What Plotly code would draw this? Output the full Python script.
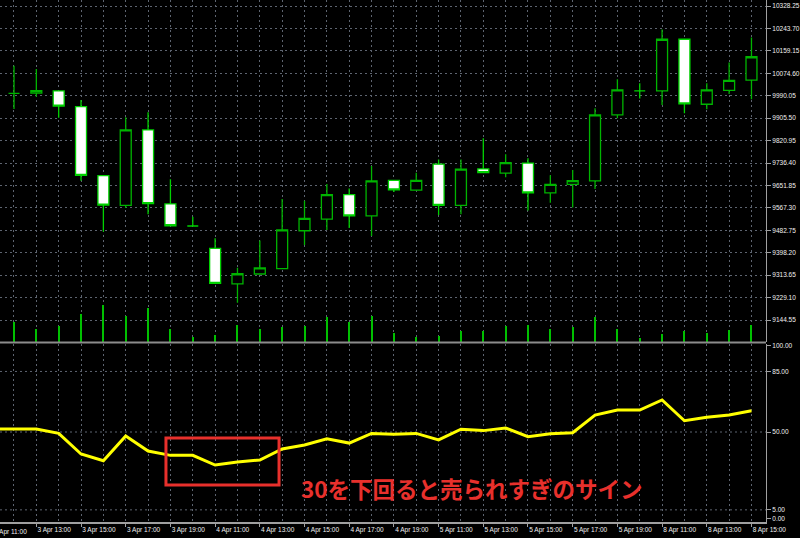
import plotly.graph_objects as go

# ---- data ----
idx = list(range(34))
opens = [9999, 10000, 10008, 9949, 9689, 9577, 9861, 9582, 9499, 9415, 9281, 9318, 9338, 9481, 9525, 9617, 9537,
         9671, 9634, 9732, 9577, 9714, 9698, 9736, 9624, 9656, 9669, 9918, 10008, 10008, 10203, 9958, 10010, 10049]
highs = [10103, 10091, 10010, 9974, 9690, 9909, 9928, 9675, 9534, 9453, 9342, 9444, 9601, 9594, 9657, 9640, 9725,
         9673, 9700, 9750, 9750, 9830, 9769, 9754, 9690, 9710, 9943, 10052, 10037, 10240, 10204, 10037, 10115, 10210]
lows = [9940, 9986, 9907, 9670, 9477, 9567, 9543, 9498, 9497, 9281, 9210, 9316, 9336, 9427, 9484, 9491, 9461,
        9627, 9632, 9540, 9543, 9699, 9683, 9557, 9587, 9569, 9638, 9905, 9980, 9955, 9924, 9939, 9997, 9977]
closes = [9999, 10009, 9951, 9690, 9578, 9861, 9583, 9500, 9499, 9283, 9319, 9341, 9484, 9528, 9617, 9537, 9669,
          9635, 9671, 9577, 9713, 9700, 9738, 9624, 9656, 9670, 9918, 10012, 10008, 10203, 9959, 10012, 10048, 10137]
volumes = [200, 130, 160, 280, 370, 260, 340, 130, 50, 70, 170, 130, 150, 160, 250, 200, 260,
           90, 50, 60, 110, 110, 160, 170, 130, 150, 250, 130, 40, 80, 110, 90, 120, 170]

rsi_x = list(range(-1, 34))
rsi = [51.7, 51.7, 51.7, 49.2, 37.3, 33.4, 47.7, 39.0, 36.5, 36.5, 30.9, 32.7, 33.8, 40.2, 42.5, 46.1, 43.6,
       49.2, 48.7, 49.2, 45.4, 51.6, 50.8, 52.3, 47.3, 49.0, 49.6, 59.8, 62.7, 62.7, 68.5, 56.5, 58.5, 59.8, 62.3]
rsi_levels = [85, 50, 5]

price_ticks = [10328.25, 10243.70, 10159.15, 10074.60, 9990.05, 9905.50, 9820.95, 9736.40,
               9651.85, 9567.30, 9482.75, 9398.20, 9313.65, 9229.10, 9144.55]
rsi_ticks = [100, 85, 50, 5, 0]

time_tick_idx = [1, 3, 5, 7, 9, 11, 13, 15, 17, 19, 21, 23, 25, 27, 29, 31, 33]
time_tick_text = ["3 Apr 13:00", "3 Apr 15:00", "3 Apr 17:00", "3 Apr 19:00", "4 Apr 11:00", "4 Apr 13:00",
                  "4 Apr 15:00", "4 Apr 17:00", "4 Apr 19:00", "5 Apr 11:00", "5 Apr 13:00", "5 Apr 15:00",
                  "5 Apr 17:00", "5 Apr 19:00", "8 Apr 11:00", "8 Apr 13:00", "8 Apr 15:00"]
first_label = "3 Apr 11:00"

note_text = "30を下回ると売られすぎのサイン"

# ---- style ----
GRID = "#5d6470"
AX = "#a0a0a0"
TXT = "#f0f0f0"
RED = "#e8302c"
tick_font = dict(family="Liberation Sans, Arial, sans-serif", size=6.5, color=TXT)
XR = [-0.626, 33.65]

fig = go.Figure()

fig.add_trace(go.Candlestick(
    x=idx, open=opens, high=highs, low=lows, close=closes,
    xaxis="x", yaxis="y", whiskerwidth=0,
    increasing=dict(line=dict(color="#00b400", width=1.3), fillcolor="#000000"),
    decreasing=dict(line=dict(color="#00d200", width=1.3), fillcolor="#ffffff"),
    hoverinfo="skip", showlegend=False))

fig.add_trace(go.Bar(
    x=idx, y=volumes, width=0.09, xaxis="x", yaxis="y3",
    marker=dict(color="#00c000", line=dict(width=0)), showlegend=False, hoverinfo="skip"))

fig.add_trace(go.Scatter(
    x=rsi_x, y=rsi, mode="lines", xaxis="x2", yaxis="y2",
    line=dict(color="#ffff00", width=3), showlegend=False, hoverinfo="skip"))

shapes = []
for lv in rsi_levels:
    shapes.append(dict(type="line", xref="paper", x0=0, x1=1, yref="y2", y0=lv, y1=lv,
                       line=dict(color=GRID, width=1, dash="2px,3px"), layer="below"))
# separator between panels
shapes.append(dict(type="line", xref="paper", x0=0, x1=1.0, yref="paper", y0=0.3439, y1=0.3439,
                   line=dict(color="#8c8c8c", width=2)))
# red highlight box
shapes.append(dict(type="rect", xref="x2", yref="y2", x0=6.8, x1=11.86, y0=19.4, y1=46.5,
                   line=dict(color=RED, width=3), fillcolor="rgba(0,0,0,0)"))

annotations = [
    dict(text=note_text, xref="x2", yref="y2", x=20.5, y=17.8, showarrow=False,
         font=dict(family="Noto Sans CJK JP", size=22.5, color=RED, weight="bold"),
         xanchor="center", yanchor="middle"),
    dict(text=first_label, xref="paper", yref="paper", x=0, y=0, xanchor="left", yanchor="top",
         xshift=-8, yshift=-4, showarrow=False, font=tick_font),
]

fig.update_layout(
    width=800, height=538,
    margin=dict(l=0, r=34, t=0, b=16),
    paper_bgcolor="#000000", plot_bgcolor="#000000",
    showlegend=False, bargap=0,
    shapes=shapes, annotations=annotations,
    xaxis=dict(domain=[0, 1], anchor="y", range=XR, rangeslider=dict(visible=False),
               tickmode="linear", tick0=0, dtick=1, showticklabels=False, ticks="",
               showgrid=True, gridcolor=GRID, gridwidth=1, griddash="2px,3px",
               zeroline=False, showline=False, fixedrange=True),
    yaxis=dict(domain=[0.34483, 1], anchor="x", side="right", range=[9061.7, 10350.9],
               tickmode="array", tickvals=price_ticks, ticktext=[f"{v:.2f}" for v in price_ticks],
               showgrid=True, gridcolor=GRID, gridwidth=1, griddash="2px,3px",
               ticks="outside", ticklen=4, tickcolor=AX, showline=True, linecolor=AX, linewidth=1,
               tickfont=tick_font, zeroline=False, automargin=False),
    yaxis3=dict(overlaying="y", anchor="x", range=[0, 3420], visible=False),
    xaxis2=dict(domain=[0, 1], anchor="y2", range=XR,
                tickmode="array", tickvals=time_tick_idx, ticktext=time_tick_text,
                ticklabelposition="outside right",
                ticks="outside", ticklen=3, tickcolor=AX, tickfont=tick_font,
                showgrid=True, gridcolor=GRID, gridwidth=1, griddash="2px,3px",
                minor=dict(tickmode="linear", tick0=0, dtick=1, showgrid=True, gridcolor=GRID,
                           gridwidth=1, griddash="2px,3px", ticks=""),
                showline=True, linecolor=AX, linewidth=1.5, zeroline=False, automargin=False),
    yaxis2=dict(domain=[0, 0.341], anchor="x2", side="right", range=[-2.02, 100.87],
                tickmode="array", tickvals=rsi_ticks, ticktext=[f"{v:.2f}" for v in rsi_ticks],
                showgrid=False, ticks="outside", ticklen=4, tickcolor=AX,
                showline=True, linecolor=AX, linewidth=1, tickfont=tick_font,
                zeroline=False, automargin=False),
)

fig.write_html("out.html", config={"displayModeBar": False},
               post_script="document.body.style.margin='0';document.body.style.background='#000';")
